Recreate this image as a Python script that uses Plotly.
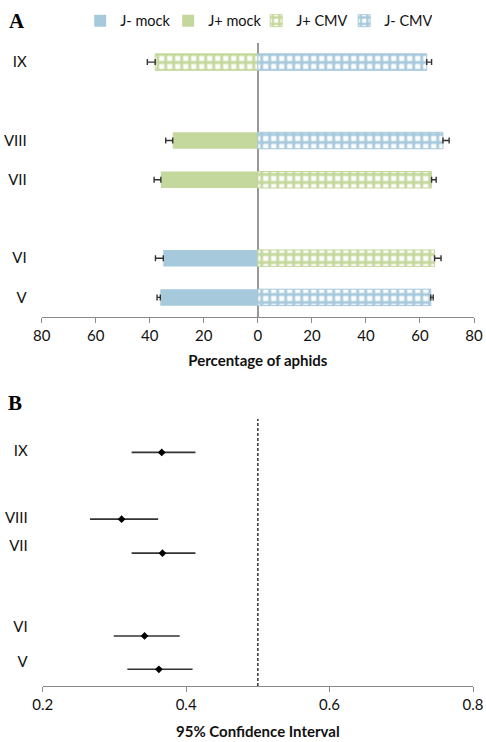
import plotly.graph_objects as go

# ---------------- data ----------------
# Panel A: categories and their vertical positions
cats_a = ["V", "VI", "VII", "VIII", "IX"]
pos_a = [1, 2, 4, 5, 7]

# series (negative = left side)
j_minus_mock_cat = ["V", "VI"]
j_minus_mock_val = [-36.1, -35.0]
j_minus_mock_err = [1.2, 2.9]

j_plus_mock_cat = ["VII", "VIII"]
j_plus_mock_val = [-35.9, -31.5]
j_plus_mock_err = [2.5, 2.6]

j_plus_cmv_cat = ["VI", "VII", "IX"]
j_plus_cmv_val = [65.4, 64.3, -38.0]
j_plus_cmv_err = [2.4, 1.7, 2.9]

j_minus_cmv_cat = ["V", "VIII", "IX"]
j_minus_cmv_val = [64.0, 68.5, 62.5]
j_minus_cmv_err = [0.9, 2.3, 1.8]

xticks_a = [-80, -60, -40, -20, 0, 20, 40, 60, 80]

# Panel B: point estimates and 95% CI
cats_b = ["V", "VI", "VII", "VIII", "IX"]
pos_b_points = [0, 1, 3.48, 4.5, 6.5]
pos_b_labels = [0.22, 1.27, 3.69, 4.53, 6.54]
est_b = [0.362, 0.342, 0.367, 0.310, 0.366]
lo_b = [0.318, 0.299, 0.324, 0.266, 0.324]
hi_b = [0.409, 0.391, 0.413, 0.361, 0.413]
xticks_b = [0.2, 0.4, 0.6, 0.8]

# ---------------- styles ----------------
BLUE = "#a6c9dc"
GREEN = "#c4d79c"
FONT = "Lato"
TXT = "#111111"
AXC = "#8a8a8a"

pos_map = dict(zip(cats_a, pos_a))


def ypos(cats):
    return [pos_map[c] for c in cats]


def errs(vals, err):
    plus = [e if v > 0 else 0 for v, e in zip(vals, err)]
    minus = [e if v < 0 else 0 for v, e in zip(vals, err)]
    return dict(type="data", symmetric=False, array=plus, arrayminus=minus,
                color="#333333", thickness=1.4, width=3)


def checker(color):
    return dict(shape="+", fgcolor=color, bgcolor="white", size=8,
                solidity=0.58, fillmode="replace")


fig = go.Figure()

fig.add_trace(go.Bar(name="J- mock", y=ypos(j_minus_mock_cat), x=j_minus_mock_val,
                     orientation="h", width=0.42, marker=dict(color=BLUE, line=dict(width=0)),
                     error_x=errs(j_minus_mock_val, j_minus_mock_err),
                     xaxis="x", yaxis="y"))
fig.add_trace(go.Bar(name="J+ mock", y=ypos(j_plus_mock_cat), x=j_plus_mock_val,
                     orientation="h", width=0.42, marker=dict(color=GREEN, line=dict(width=0)),
                     error_x=errs(j_plus_mock_val, j_plus_mock_err),
                     xaxis="x", yaxis="y"))
fig.add_trace(go.Bar(name="J+ CMV", y=ypos(j_plus_cmv_cat), x=j_plus_cmv_val,
                     orientation="h", width=0.42,
                     marker=dict(color="white", pattern=checker(GREEN), line=dict(color=GREEN, width=1)),
                     error_x=errs(j_plus_cmv_val, j_plus_cmv_err),
                     xaxis="x", yaxis="y"))
fig.add_trace(go.Bar(name="J- CMV", y=ypos(j_minus_cmv_cat), x=j_minus_cmv_val,
                     orientation="h", width=0.42,
                     marker=dict(color="white", pattern=checker(BLUE), line=dict(color=BLUE, width=1)),
                     error_x=errs(j_minus_cmv_val, j_minus_cmv_err),
                     xaxis="x", yaxis="y"))

fig.add_trace(go.Scatter(x=est_b, y=pos_b_points, mode="markers",
                         marker=dict(symbol="diamond", size=6, color="black"),
                         error_x=dict(type="data", symmetric=False,
                                      array=[h - e for h, e in zip(hi_b, est_b)],
                                      arrayminus=[e - l for e, l in zip(est_b, lo_b)],
                                      color="#333333", thickness=1.6, width=0),
                         showlegend=False, xaxis="x2", yaxis="y2"))

fig.add_shape(type="line", xref="x2", yref="y2 domain", x0=0.5, x1=0.5, y0=0, y1=1,
              line=dict(color="#333333", width=1.5, dash="3px,2px"))

axis_font = dict(family=FONT, size=15, color=TXT)

fig.update_layout(
    width=486, height=742,
    margin=dict(l=0, r=0, t=0, b=0),
    paper_bgcolor="white", plot_bgcolor="white",
    barmode="overlay",
    font=dict(family=FONT, size=14, color=TXT),
    showlegend=True,
    legend=dict(orientation="h", x=0.165, y=0.972, xanchor="left", yanchor="middle",
                font=dict(family=FONT, size=14.5, color=TXT), entrywidth=43,
                traceorder="normal", bgcolor="rgba(0,0,0,0)"),
    xaxis=dict(domain=[41.7 / 486, 474 / 486], range=[-80, 80], anchor="y",
               tickvals=xticks_a, ticktext=[str(abs(v)) for v in xticks_a],
               showline=True, linecolor=AXC, linewidth=1.3, ticks="outside",
               ticklen=5, tickcolor=AXC, tickwidth=1.3, showgrid=False,
               zeroline=True, zerolinecolor="#999999", zerolinewidth=1.5,
               tickfont=axis_font, automargin=False,
               title=dict(text="<b>Percentage of aphids</b>", standoff=12,
                          font=dict(family=FONT, size=15, color=TXT))),
    yaxis=dict(domain=[1 - 317 / 742, 1 - 42.5 / 742], range=[0.5, 7.5], anchor="x",
               tickvals=pos_a, ticktext=cats_a, showline=False, ticks="",
               showgrid=False, zeroline=False, tickfont=axis_font,
               ticklabelstandoff=14, automargin=False),
    xaxis2=dict(domain=[42.7 / 486, 473 / 486], range=[0.2, 0.8], anchor="y2",
                tickvals=xticks_b, ticktext=[f"{v:.1f}" for v in xticks_b],
                showline=True, linecolor=AXC, linewidth=1.3, ticks="outside",
                ticklen=5, tickcolor=AXC, tickwidth=1.3, showgrid=False,
                zeroline=False, tickfont=axis_font, automargin=False,
                title=dict(text="<b>95% Confidence Interval</b>", standoff=14,
                           font=dict(family=FONT, size=15, color=TXT))),
    yaxis2=dict(domain=[1 - 686 / 742, 1 - 419 / 742], range=[-0.5, 7.5], anchor="x2",
                tickvals=pos_b_labels, ticktext=cats_b, showline=False, ticks="",
                showgrid=False, zeroline=False, tickfont=axis_font,
                ticklabelstandoff=14, automargin=False),
    annotations=[
        dict(text="<b>A</b>", x=7 / 486, y=1 - 21 / 742, xref="paper", yref="paper",
             xanchor="left", yanchor="middle", showarrow=False,
             font=dict(family="Liberation Serif", size=21, color="black")),
        dict(text="<b>B</b>", x=6 / 486, y=1 - 403 / 742, xref="paper", yref="paper",
             xanchor="left", yanchor="middle", showarrow=False,
             font=dict(family="Liberation Serif", size=21, color="black")),
    ],
)

fig.write_html("out.html")
